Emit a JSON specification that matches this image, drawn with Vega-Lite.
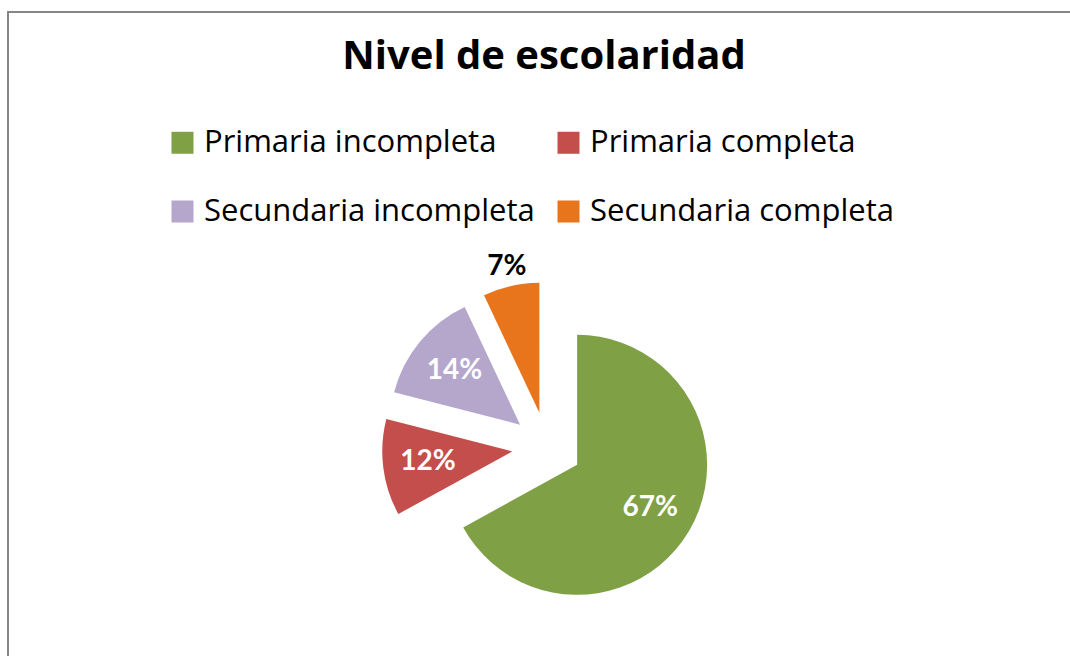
{
  "$schema": "https://vega.github.io/schema/vega-lite/v6.json",
  "width": 1072,
  "height": 654,
  "autosize": {"type": "none"},
  "padding": {"left": 8, "top": 12, "right": -10, "bottom": -10},
  "background": "white",
  "view": {"stroke": "#868686", "strokeWidth": 2, "fill": "white"},
  "title": {
    "text": "Nivel de escolaridad",
    "font": "Open Sans",
    "fontSize": 40,
    "fontWeight": "bold",
    "color": "black",
    "anchor": "middle",
    "offset": -65
  },
  "data": {
    "values": [
      {"orden": 1, "nivel": "Primaria incompleta", "pct": 67},
      {"orden": 2, "nivel": "Primaria completa", "pct": 12},
      {"orden": 3, "nivel": "Secundaria incompleta", "pct": 14},
      {"orden": 4, "nivel": "Secundaria completa", "pct": 7}
    ]
  },
  "transform": [
    {"window": [{"op": "sum", "field": "pct", "as": "fin"}], "sort": [{"field": "orden"}], "frame": [null, 0]},
    {"calculate": "datum.fin - datum.pct", "as": "inicio"},
    {"calculate": "datum.fin - datum.pct / 2", "as": "medio"},
    {"calculate": "sin(2 * PI * datum.medio / 100)", "as": "ex"},
    {"calculate": "-cos(2 * PI * datum.medio / 100)", "as": "ey"},
    {"calculate": "datum.pct + '%'", "as": "etiqueta"}
  ],
  "encoding": {
    "x": {"field": "ex", "type": "quantitative", "scale": {"domain": [-1, 1], "range": [504, 574], "zero": false, "nice": false}, "axis": null},
    "y": {"field": "ey", "type": "quantitative", "scale": {"domain": [-1, 1], "range": [400, 470], "zero": false, "nice": false}, "axis": null}
  },
  "layer": [
    {
      "mark": {"type": "arc", "radius": 130},
      "encoding": {
        "theta": {"field": "inicio", "type": "quantitative", "scale": {"domain": [0, 100]}},
        "theta2": {"field": "fin"},
        "color": {
          "field": "nivel",
          "type": "nominal",
          "sort": ["Primaria incompleta", "Primaria completa", "Secundaria incompleta", "Secundaria completa"],
          "scale": {
            "domain": ["Primaria incompleta", "Primaria completa", "Secundaria incompleta", "Secundaria completa"],
            "range": ["#80A046", "#C44E4B", "#B5A6CC", "#E8751C"]
          },
          "legend": {
            "orient": "none",
            "direction": "horizontal",
            "legendX": 159,
            "legendY": 115,
            "columns": 2,
            "title": null,
            "symbolType": "square",
            "symbolSize": 484,
            "symbolStrokeWidth": 0,
            "symbolOpacity": 1,
            "labelFont": "Open Sans",
            "labelFontSize": 31,
            "labelColor": "black",
            "labelOffset": 6,
            "labelLimit": 0,
            "columnPadding": 18,
            "rowPadding": 37,
            "padding": 0
          }
        }
      }
    },
    {
      "transform": [{"filter": "datum.pct >= 10"}],
      "mark": {"type": "text", "radius": 85, "font": "Lato", "fontSize": 28, "fontWeight": "bold", "color": "white", "align": "center", "baseline": "middle"},
      "encoding": {
        "theta": {"field": "medio", "type": "quantitative", "scale": {"domain": [0, 100]}},
        "text": {"field": "etiqueta", "type": "nominal"}
      }
    },
    {
      "transform": [{"filter": "datum.pct < 10"}],
      "mark": {"type": "text", "radius": 149, "font": "Lato", "fontSize": 28, "fontWeight": "bold", "color": "black", "align": "center", "baseline": "middle"},
      "encoding": {
        "theta": {"field": "medio", "type": "quantitative", "scale": {"domain": [0, 100]}},
        "text": {"field": "etiqueta", "type": "nominal"}
      }
    }
  ]
}
